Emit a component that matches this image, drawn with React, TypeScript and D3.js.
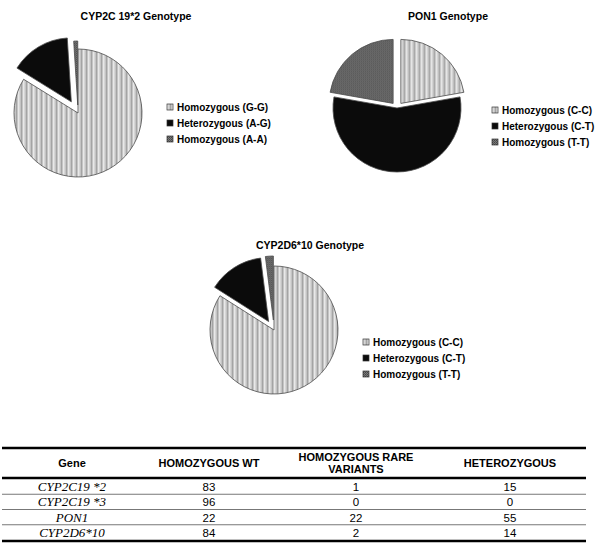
import React from "react";
import * as d3 from "d3";

// pie charts
const pieTitles = ["CYP2C 19*2 Genotype", "PON1 Genotype", "CYP2D6*10 Genotype"];
const cyp2c19Labels = ["Homozygous (G-G)", "Heterozygous (A-G)", "Homozygous (A-A)"];
const cyp2c19Values = [83, 15, 1];
const pon1Labels = ["Homozygous (C-C)", "Heterozygous (C-T)", "Homozygous (T-T)"];
const pon1Values = [22, 55, 22];
const cyp2d6Labels = ["Homozygous (C-C)", "Heterozygous (C-T)", "Homozygous (T-T)"];
const cyp2d6Values = [84, 14, 2];

// table
const tableHeaders = [["Gene"], ["HOMOZYGOUS WT"], ["HOMOZYGOUS RARE", "VARIANTS"], ["HETEROZYGOUS"]];
const tableGenes = ["CYP2C19 *2", "CYP2C19 *3", "PON1", "CYP2D6*10"];
const homozygousWT = [83, 96, 22, 84];
const homozygousRare = [1, 0, 22, 2];
const heterozygous = [15, 0, 55, 14];

const fills = ["url(#stripes)", "#0b0b0b", "url(#checker)"];

// layout of each pie: center, radius, explode offsets, legend spot
const pies = [
  {title: pieTitles[0], labels: cyp2c19Labels, values: cyp2c19Values,
   cx: 78, cy: 113, r: 64, explode: [0, 13, 8], tx: 136, ty: 20, lx: 167, ly: 107},
  {title: pieTitles[1], labels: pon1Labels, values: pon1Values,
   cx: 397, cy: 108, r: 64, explode: [6, 0, 6], tx: 448, ty: 20, lx: 492, ly: 110},
  {title: pieTitles[2], labels: cyp2d6Labels, values: cyp2d6Values,
   cx: 274, cy: 330, r: 64, explode: [0, 10, 10], tx: 310, ty: 249, lx: 363, ly: 342},
];

const sans = "'Liberation Sans', Arial, sans-serif";

function Pie({p}: {p: any}) {
  const arcs = d3.pie<number>().sort(null).value(d => d)(p.values);
  const arc = d3.arc<d3.PieArcDatum<number>>().innerRadius(0).outerRadius(p.r);
  return (
    <g>
      <text x={p.tx} y={p.ty} textAnchor="middle" fontFamily={sans} fontWeight="bold" fontSize={10.5}>{p.title}</text>
      <g transform={`translate(${p.cx},${p.cy})`}>
        {arcs.map((a, i) => {
          const mid = (a.startAngle + a.endAngle) / 2;
          const dx = Math.sin(mid) * p.explode[i];
          const dy = -Math.cos(mid) * p.explode[i];
          return <path key={i} d={arc(a) || ""} transform={`translate(${dx},${dy})`}
            fill={fills[i]} stroke="#4a4a4a" strokeWidth={0.8} />;
        })}
      </g>
      {p.labels.map((l: string, i: number) => (
        <g key={l} transform={`translate(${p.lx},${p.ly + i * 16})`}>
          <rect x={0} y={-3} width={6} height={6} fill={fills[i]} stroke="#333" strokeWidth={0.7} />
          <text x={10} y={3.5} fontFamily={sans} fontWeight="bold" fontSize={10}>{l}</text>
        </g>
      ))}
    </g>
  );
}

function Table() {
  const colX = d3.scaleOrdinal<number, number>().domain([0, 1, 2, 3]).range([72, 209, 356, 510]);
  const y = d3.scaleBand().domain(tableGenes).range([479, 540]);
  const cols = [homozygousWT, homozygousRare, heterozygous];
  return (
    <g>
      <line x1={2} x2={586} y1={448} y2={448} stroke="#000" strokeWidth={2.5} />
      {tableHeaders.map((h, i) => h.map((t, j) => (
        <text key={t} x={colX(i)} y={h.length > 1 ? 461 + j * 12 : 467} textAnchor="middle"
          fontFamily={sans} fontWeight="bold" fontSize={11}>{t}</text>
      )))}
      <line x1={2} x2={586} y1={478} y2={478} stroke="#000" strokeWidth={2.5} />
      {tableGenes.map((g, i) => (
        <g key={g}>
          {i > 0 && <line x1={2} x2={586} y1={y(g)!} y2={y(g)!} stroke="#777" strokeWidth={1.2} />}
          <text x={colX(0)} y={y(g)! + y.bandwidth() / 2 + 4.5} textAnchor="middle"
            fontFamily="'Liberation Serif', 'Times New Roman', serif" fontStyle="italic" fontSize={13}>{g}</text>
          {cols.map((c, k) => (
            <text key={k} x={colX(k + 1)} y={y(g)! + y.bandwidth() / 2 + 4.5} textAnchor="middle"
              fontFamily={sans} fontSize={11.5}>{c[i]}</text>
          ))}
        </g>
      ))}
      <line x1={2} x2={586} y1={541} y2={541} stroke="#000" strokeWidth={2.5} />
    </g>
  );
}

export default function App() {
  return (
    <svg width={600} height={544} style={{position: "absolute", left: 0, top: 0, background: "#fff"}}>
      <defs>
        <pattern id="stripes" width={5} height={5} patternUnits="userSpaceOnUse">
          <rect width={5} height={5} fill="#c4c4c4" />
          <rect x={0} width={1.5} height={5} fill="#e8e8e8" />
          <rect x={3} width={1} height={5} fill="#a4a4a4" />
        </pattern>
        <pattern id="checker" width={2} height={2} patternUnits="userSpaceOnUse">
          <rect width={2} height={2} fill="#7a7a7a" />
          <rect width={1} height={1} fill="#444" />
          <rect x={1} y={1} width={1} height={1} fill="#555" />
        </pattern>
      </defs>
      {pies.map(p => <Pie key={p.title} p={p} />)}
      <Table />
    </svg>
  );
}
